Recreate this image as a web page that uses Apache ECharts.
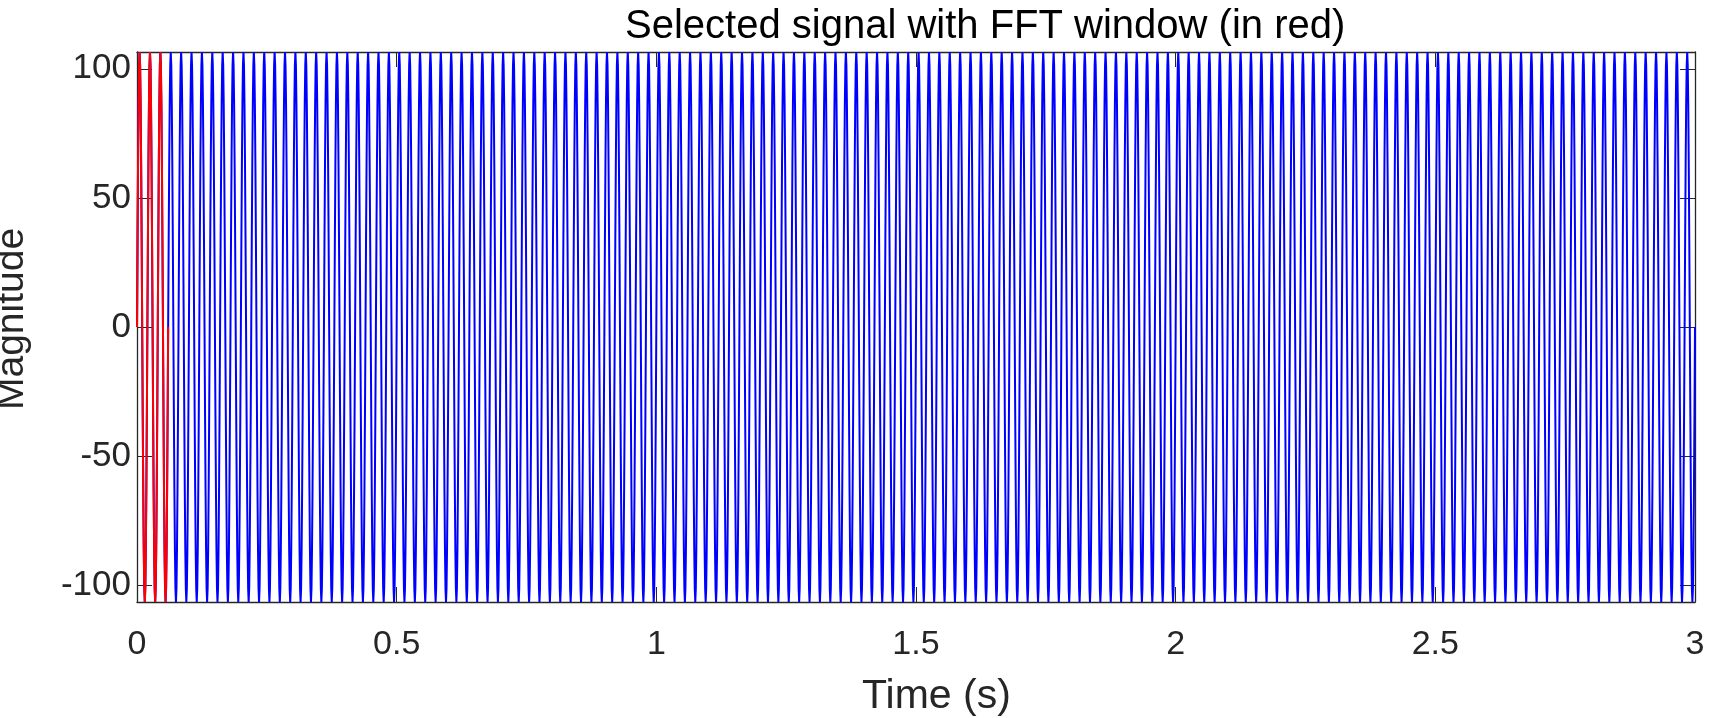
<!DOCTYPE html>
<html>
<head>
<meta charset="utf-8">
<title>Selected signal with FFT window</title>
<script src="https://cdn.jsdelivr.net/npm/echarts@6/dist/echarts.min.js"></script>
<style>
  html, body { margin: 0; padding: 0; background: #fff; }
  #main { width: 1712px; height: 718px; }
</style>
</head>
<body>
<div id="main"></div>
<script>
var cycleValues = [0, 33, 62.6, 86.2, 101.3, 106.5, 101.3, 86.2, 62.6, 33,
                   0, -33, -62.6, -86.2, -101.3, -106.5, -101.3, -86.2, -62.6, -33];
var sampleStep = 0.001;   // s
var cycleCount = 150;     // 3 s of signal
var windowEnd = 0.06;     // FFT window, 3 cycles
var xTicks = [0, 0.5, 1, 1.5, 2, 2.5, 3];
var yTicks = [-100, -50, 0, 50, 100];

var signal = [];
for (var c = 0; c < cycleCount; c++) {
    for (var k = 0; k < cycleValues.length; k++) {
        var i = c * cycleValues.length + k;
        signal.push([+(i * sampleStep).toFixed(3), cycleValues[k]]);
    }
}
signal.push([3, 0]);
var fftWindow = signal.filter(function (p) { return p[0] <= windowEnd + 1e-9; });

var axisColor = '#262626';
var font = 'Liberation Sans, Arial, Helvetica, sans-serif';

function frameAxis(extra) {
    var base = {
        type: 'value',
        axisLine: { show: true, onZero: false, lineStyle: { color: axisColor, width: 1.3 } },
        axisTick: { show: true, inside: true, length: 15, lineStyle: { color: axisColor } },
        axisLabel: { show: false },
        splitLine: { show: false }
    };
    return Object.assign(base, extra);
}

var chart = echarts.init(document.getElementById('main'));
chart.setOption({
    animation: false,
    title: {
        text: 'Selected signal with FFT window (in red)',
        left: 620,
        top: 2,
        textStyle: { fontFamily: font, fontSize: 40, fontWeight: 'normal', color: '#000' }
    },
    grid: { left: 137, right: 17, top: 52, bottom: 116 },
    xAxis: [
        frameAxis({
            min: 0, max: 3, interval: 0.5,
            axisLabel: {
                margin: 26, fontSize: 34, color: axisColor, fontFamily: font,
                formatter: function (v) { return xTicks.indexOf(v) >= 0 ? String(v) : ''; }
            }
        }),
        frameAxis({ position: 'top', min: 0, max: 3, interval: 0.5 })
    ],
    yAxis: [
        frameAxis({
            position: 'left', min: -106.5, max: 106.5,
            axisLabel: {
                margin: 6, fontSize: 35, color: axisColor, fontFamily: font,
                formatter: function (v) { return yTicks.indexOf(v) >= 0 ? String(v) : ''; }
            }
        }),
        frameAxis({ position: 'right', min: -106.5, max: 106.5 })
    ],
    graphic: [
        {
            type: 'text', left: 862, top: 676,
            style: { text: 'Time (s)', font: '41px ' + font, fill: axisColor }
        },
        {
            type: 'text', rotation: Math.PI / 2, x: -7, y: 410,
            style: { text: 'Magnitude', font: '39px ' + font, fill: axisColor }
        }
    ],
    series: [
        {
            name: 'signal', type: 'line', data: signal,
            showSymbol: false, sampling: null, z: 2,
            lineStyle: { color: '#0000ff', width: 2 }
        },
        {
            name: 'FFT window', type: 'line', data: fftWindow,
            showSymbol: false, z: 3,
            lineStyle: { color: '#ff0000', width: 2 }
        }
    ]
});
</script>
</body>
</html>
